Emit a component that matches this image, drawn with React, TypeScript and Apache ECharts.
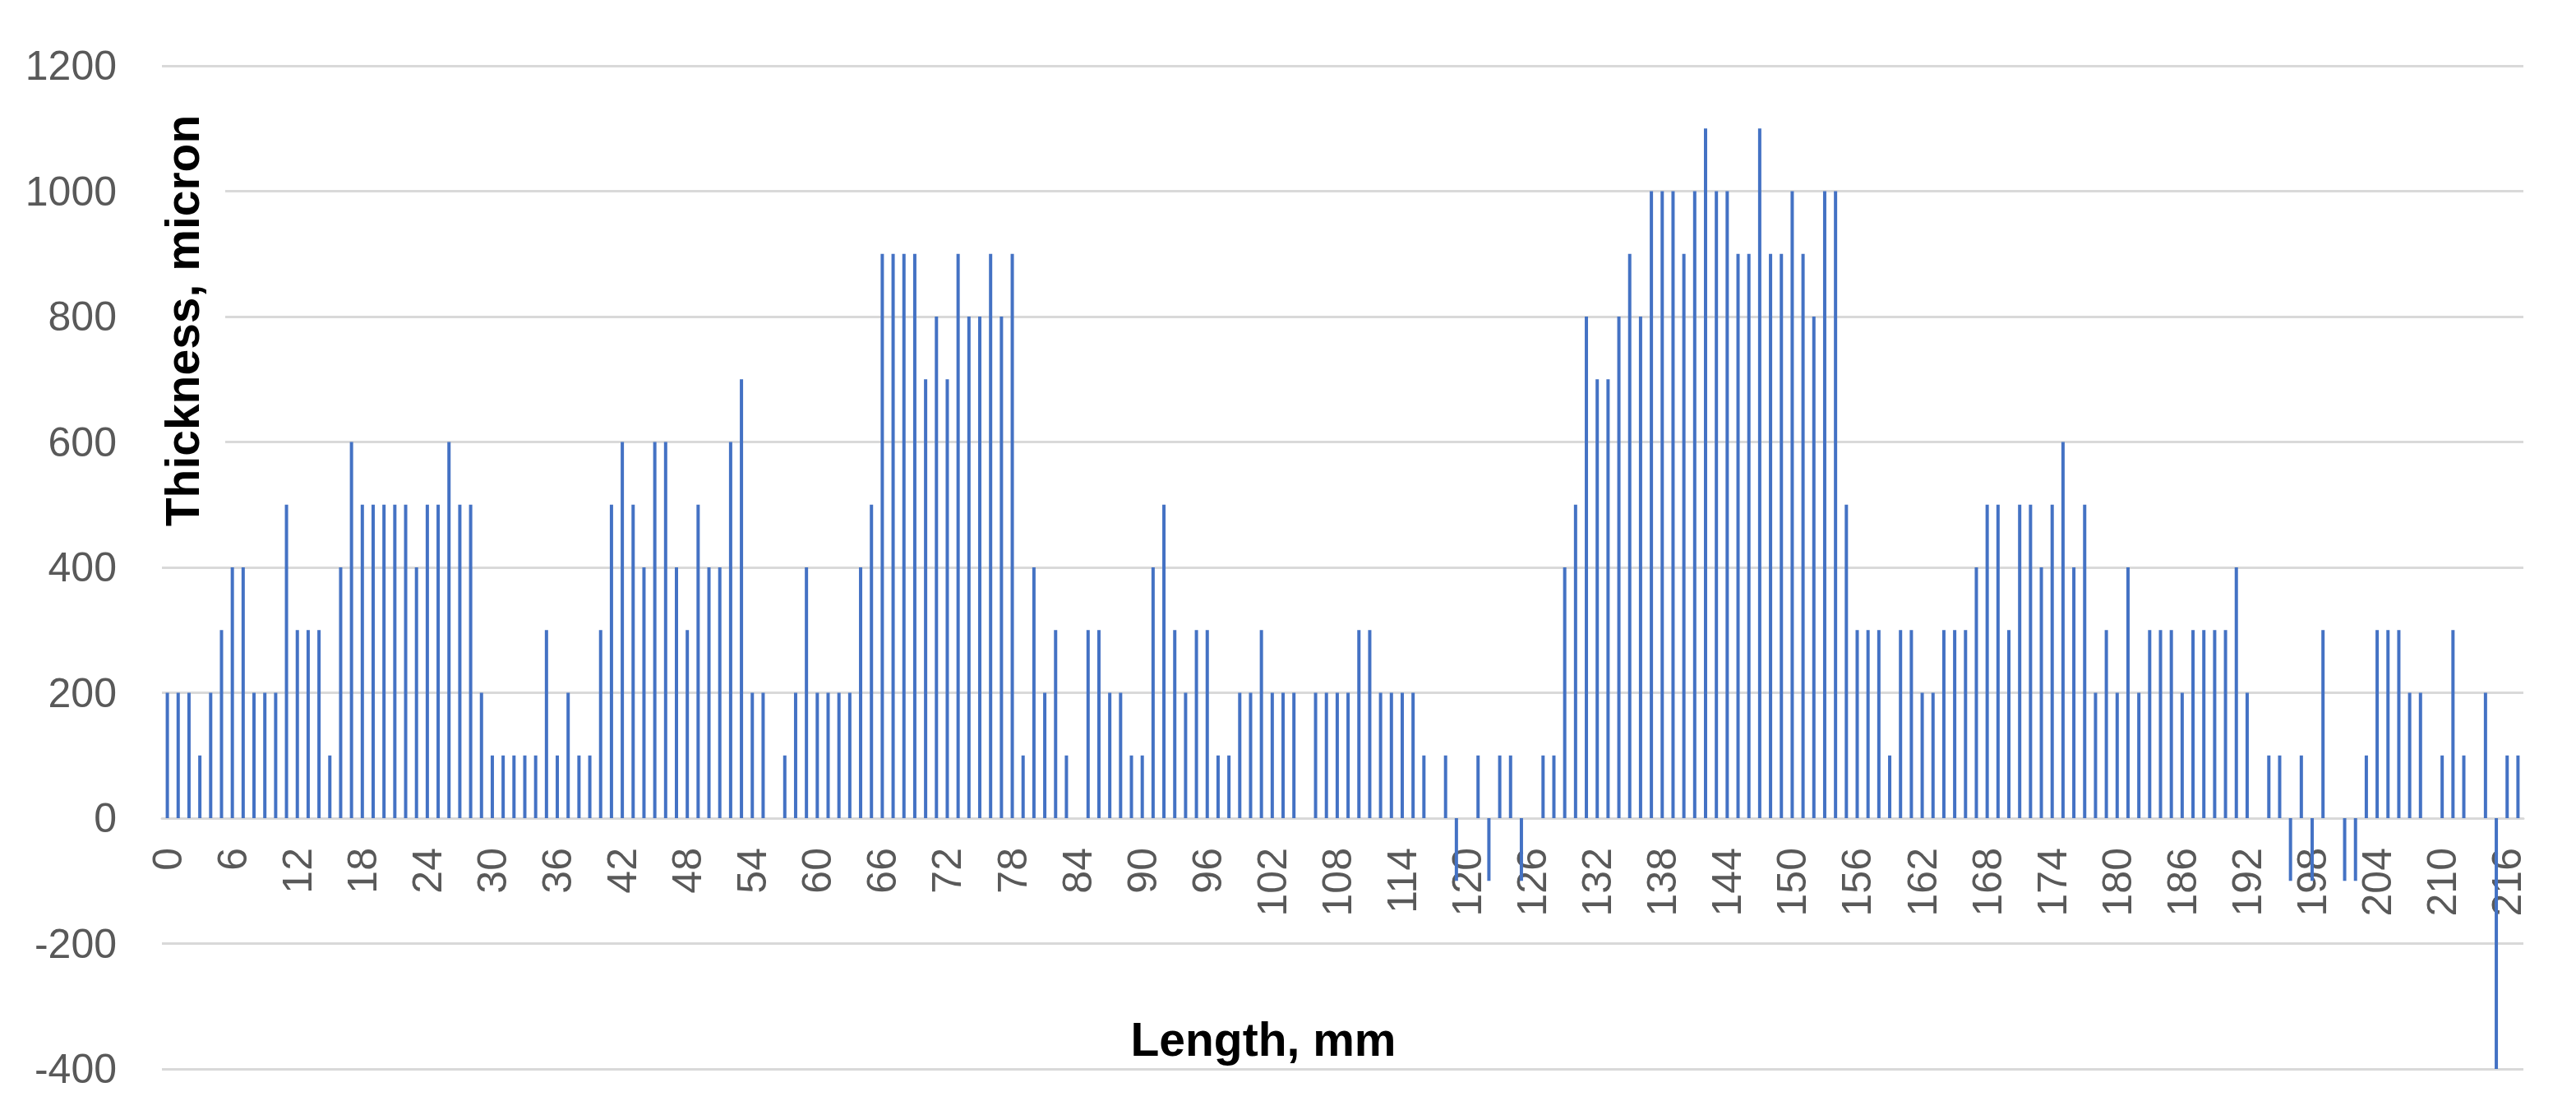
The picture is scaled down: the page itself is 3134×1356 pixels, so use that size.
import React, { useEffect, useRef } from "react";
import * as echarts from "echarts";

// coating thickness (micron), one reading per mm of length, 0..217 mm
const thickness0to59 = [
  200, 200, 200, 100, 200, 300, 400, 400, 200, 200, 200, 500,
  300, 300, 300, 100, 400, 600, 500, 500, 500, 500, 500, 400,
  500, 500, 600, 500, 500, 200, 100, 100, 100, 100, 100, 300,
  100, 200, 100, 100, 300, 500, 600, 500, 400, 600, 600, 400,
  300, 500, 400, 400, 600, 700, 200, 200, 0, 100, 200, 400,
];
const thickness60to119 = [
  200, 200, 200, 200, 400, 500, 900, 900, 900, 900, 700, 800,
  700, 900, 800, 800, 900, 800, 900, 100, 400, 200, 300, 100,
  0, 300, 300, 200, 200, 100, 100, 400, 500, 300, 200, 300,
  300, 100, 100, 200, 200, 300, 200, 200, 200, 0, 200, 200,
  200, 200, 300, 300, 200, 200, 200, 200, 100, 0, 100, -100,
];
const thickness120to179 = [
  0, 100, -100, 100, 100, -100, 0, 100, 100, 400, 500, 800,
  700, 700, 800, 900, 800, 1000, 1000, 1000, 900, 1000, 1100, 1000,
  1000, 900, 900, 1100, 900, 900, 1000, 900, 800, 1000, 1000, 500,
  300, 300, 300, 100, 300, 300, 200, 200, 300, 300, 300, 400,
  500, 500, 300, 500, 500, 400, 500, 600, 400, 500, 200, 300,
];
const thickness180to217 = [
  200, 400, 200, 300, 300, 300, 200, 300, 300, 300, 300, 400,
  200, 0, 100, 100, -100, 100, -100, 300, 0, -100, -100, 100,
  300, 300, 300, 200, 200, 0, 100, 300, 100, 0, 200, -400,
  100, 100,
];

const thickness = [
  ...thickness0to59,
  ...thickness60to119,
  ...thickness120to179,
  ...thickness180to217,
];
const lengths = thickness.map((_, i) => String(i));

const yTicks = { min: -400, max: 1200, step: 200 };

const App = () => {
  const chartRef = useRef<HTMLDivElement>(null);

  useEffect(() => {
    if (!chartRef.current) return;
    const chart = echarts.init(chartRef.current, undefined, { renderer: "svg" });

    const labelFont = {
      color: "#595959",
      fontSize: 50,
      fontFamily: "'Liberation Sans', Arial, sans-serif",
    };
    const titleStyle = {
      fill: "#000000",
      fontSize: 57,
      fontWeight: "bold",
      fontFamily: "'Liberation Sans', Arial, sans-serif",
      textAlign: "center",
      textVerticalAlign: "middle",
      align: "center",
      verticalAlign: "middle",
    };

    // plot box in px, the category axis sits on the zero line (excel style)
    const plotTop = 80;
    const plotBottom = 1300;
    const zeroY =
      plotTop + ((yTicks.max - 0) / (yTicks.max - yTicks.min)) * (plotBottom - plotTop);

    const option: any = {
      animation: false,
      backgroundColor: "#ffffff",
      grid: { left: 197, right: 64, top: plotTop, bottom: 1356 - plotBottom },
      xAxis: {
        type: "category",
        data: lengths,
        offset: zeroY - plotBottom,
        axisLine: { onZero: false, lineStyle: { color: "#d9d9d9", width: 3 } },
        axisTick: { show: false },
        axisLabel: { ...labelFont, interval: 5, rotate: 90, margin: 36 },
        splitLine: { show: false },
      },
      yAxis: {
        type: "value",
        min: yTicks.min,
        max: yTicks.max,
        interval: yTicks.step,
        axisLine: { show: false },
        axisTick: { show: false },
        axisLabel: { ...labelFont, margin: 55, formatter: (v: number) => String(v) },
        splitLine: { lineStyle: { color: "#d9d9d9", width: 3 } },
      },
      series: [
        {
          type: "bar",
          data: thickness,
          barWidth: 4,
          itemStyle: { color: "#4472C4" },
        },
      ],
      graphic: [
        // white box behind the y title, it hides the gridlines like in excel
        {
          type: "rect",
          z: 100,
          shape: { x: 190, y: 115, width: 84, height: 555 },
          style: { fill: "#ffffff" },
        },
        {
          type: "text",
          z: 101,
          x: 222,
          y: 390,
          rotation: Math.PI / 2,
          style: { ...titleStyle, text: "Thickness, micron" },
        },
        {
          type: "text",
          z: 101,
          x: 1537,
          y: 1264,
          style: { ...titleStyle, text: "Length, mm" },
        },
      ],
    };

    chart.setOption(option);

    return () => {
      chart.dispose();
    };
  }, []);

  return (
    <div
      ref={chartRef}
      style={{ position: "fixed", left: 0, top: 0, width: 3134, height: 1356 }}
    />
  );
};

export default App;
